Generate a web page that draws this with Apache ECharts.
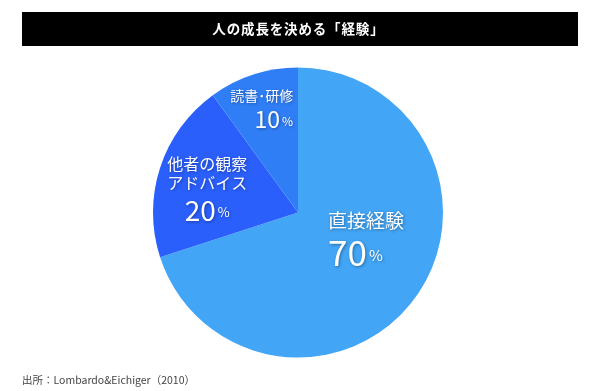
<!DOCTYPE html>
<html><head><meta charset="utf-8">
<script src="https://cdn.jsdelivr.net/npm/echarts@6/dist/echarts.min.js"></script>
<style>html,body{margin:0;padding:0;background:#fff}#c{width:600px;height:391px}</style>
</head><body><div id="c"></div>
<script>
var titleText = '人の成長を決める「経験」';
var sourceText = '出所：Lombardo&Eichiger（2010）';
var categories = ['直接経験', '他者の観察\nアドバイス', '読書･研修'];
var values = [70, 20, 10];
var colors = ['#42A5F5', '#2A5FFC', '#2F7EF6'];
var aligns = ['left', 'center', 'right'];
var nameSizes = [19, 16, 14];
var numSizes = [35, 28, 23];
var pctSizes = [15, 13, 12];
var offsets = [[7, -17], [-19, 0], [-13, -32]];

var font = '"Noto Sans CJK JP", "Noto Sans", sans-serif';
var shadow = {textShadowColor: 'rgba(0,0,0,0.35)', textShadowBlur: 3, textShadowOffsetX: 1, textShadowOffsetY: 1};
function st(o){ return Object.assign({color: '#fff', fontFamily: font}, shadow, o); }

var data = categories.map(function(c, i){
  return {
    name: c, value: values[i],
    itemStyle: {color: colors[i]},
    label: {
      offset: offsets[i],
      formatter: '{n|' + c.replace('\n', '}\n{n|') + '}\n{v|' + values[i] + '}{p|%}',
      rich: {
        n: st({fontSize: nameSizes[i], lineHeight: nameSizes[i] + 3, align: aligns[i]}),
        v: st({fontSize: numSizes[i], lineHeight: numSizes[i] + 4, align: aligns[i], padding: [4, 0, 0, 0]}),
        p: st({fontSize: pctSizes[i], align: aligns[i], padding: [8, 0, 0, 2]})
      }
    }
  };
});

var spacedTitle = titleText.split('').join('\u200A');

var chart = echarts.init(document.getElementById('c'));
chart.setOption({
  animation: false,
  graphic: [
    {type: 'rect', shape: {x: 22, y: 12, width: 556, height: 34}, style: {fill: '#000'}},
    {type: 'text', x: 298, y: 29, style: {text: spacedTitle, fill: '#fff', font: 'bold 13.5px ' + font, textAlign: 'center', textVerticalAlign: 'middle'}},
    {type: 'text', x: 22, y: 380, style: {text: sourceText, fill: '#444', font: '10.5px ' + font, textAlign: 'left', textVerticalAlign: 'middle'}}
  ],
  series: [{
    type: 'pie',
    center: [298, 212.5],
    radius: 145,
    startAngle: 90,
    clockwise: true,
    label: {show: true, position: 'inside'},
    labelLine: {show: false},
    emphasis: {disabled: true},
    data: data
  }]
});
</script></body></html>
